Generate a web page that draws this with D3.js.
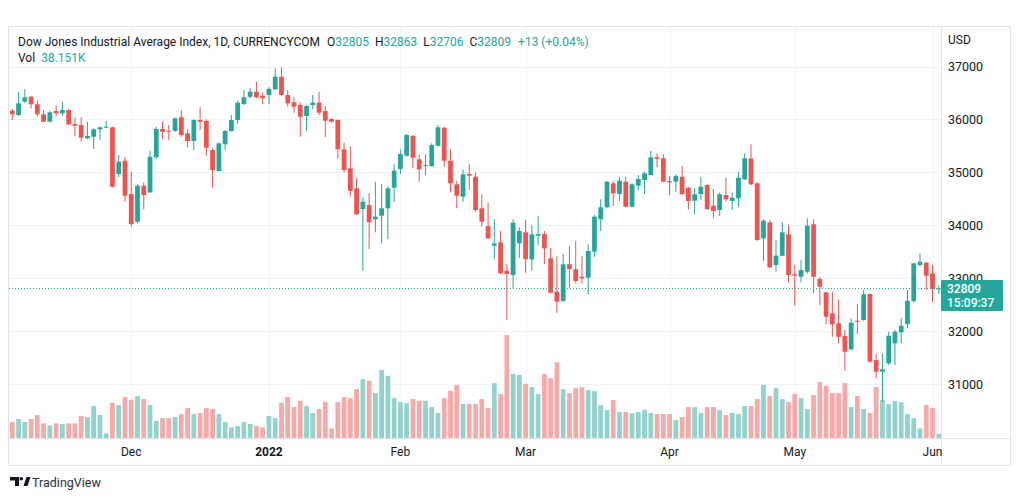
<!DOCTYPE html>
<html><head><meta charset="utf-8">
<script src="https://cdn.jsdelivr.net/npm/d3@7"></script>
<style>html,body{margin:0;padding:0;background:#fff}svg{display:block}</style>
</head><body><svg id="c" width="1020" height="501"></svg>
<script>
const opens=[36165,36083,36335,36429,36286,36097,35957,36159,36115,36178,35913,35894,35643,35673,35813,35843,35851,34968,35220,34590,34067,34747,34622,35284,35819,35787,35781,36040,35737,35592,35989,35970,35422,35025,35530,35781,35989,36291,36429,36524,36448,36461,36569,36807,36461,36323,36272,36064,36272,36316,36159,36008,35989,35435,35076,34698,34307,34382,34112,34180,34320,34709,35063,35314,35686,35246,35119,35119,35503,35843,35220,34774,34539,34968,34917,34320,33985,33613,33677,33141,33059,33658,33866,33356,33802,33834,33375,32744,32568,33262,33167,33027,33008,33500,34112,34339,34792,34590,34823,34350,34747,34855,34949,35284,35265,34836,34823,34917,34709,34464,34590,34760,34369,34288,34571,34458,34509,34868,35265,34792,33753,34055,33248,33424,33829,33073,33027,33122,34018,32984,32732,32335,32146,31906,31655,32196,32209,32700,31453,31232,31390,31768,31976,32133,32568,33248,33292,33091,32805];
const highs=[36197,36512,36575,36442,36354,36178,36165,36272,36335,36197,36040,36040,35957,35832,35862,35970,35862,35327,35295,35012,34774,34811,35403,35862,35957,35894,36040,36178,35813,36002,36229,36002,35465,35560,35800,36083,36354,36556,36588,36713,36512,36607,36966,36985,36556,36418,36323,36272,36461,36524,36253,36021,36002,35560,35484,34898,34528,34603,34823,34779,34741,35152,35435,35724,35705,35341,35341,35548,35894,35862,35435,34842,35057,35152,35000,34585,34426,34118,33891,33262,34112,33961,34099,34004,34174,33891,33575,33418,33456,33607,33708,33418,33640,34193,34490,34836,34836,34906,34917,34792,34949,35012,35409,35359,35341,34930,34968,35125,34728,34698,34917,34774,34685,34615,34898,34615,35012,35359,35530,34823,34112,34099,33721,34055,34004,33248,33343,34131,34112,33027,32744,32744,32600,32020,32241,32511,32776,32713,31566,31580,31988,32020,32252,32776,33293,33469,33311,33248,32863];
const lows=[35989,36070,36304,36210,36051,35945,35945,36064,36064,35894,35686,35579,35624,35441,35611,35840,34717,34906,34445,33972,34036,34301,34610,35252,35624,35611,35768,35673,35473,35422,35800,35314,34698,35012,35422,35768,35913,36272,36399,36399,36286,36286,36556,36442,36240,36127,35673,35787,36191,36083,35662,35938,35265,34993,34539,34193,33135,33551,33866,33658,33734,34445,34968,35295,35087,34823,34949,35106,35484,35106,34622,34320,34445,34666,34256,33972,33740,33362,33073,32209,32808,33386,33103,33154,33626,33262,32713,32347,32555,32808,32902,32902,32700,33405,33891,34320,34363,34458,34339,34339,34653,34590,34936,35095,34811,34571,34634,34571,34301,34212,34477,34288,34131,34174,34445,34288,34350,34855,34760,33708,33330,33197,33122,33418,32921,32479,32921,33091,32713,32492,32128,31893,31768,31251,31642,31944,32196,31409,31107,30665,31358,31358,31768,32052,32536,33216,32776,32555,32706];
const closes=[36097,36304,36418,36286,36097,35957,36134,36115,36178,35908,35881,35654,35686,35813,35851,35862,34728,35201,34558,34023,34747,34571,35295,35819,35768,35768,36021,35705,35592,35989,35957,35465,35044,35548,35781,35989,36316,36418,36524,36418,36399,36575,36807,36461,36304,36240,36051,36253,36316,36127,35976,35957,35435,35044,34647,34207,34445,34055,34161,34320,34698,35031,35346,35705,35276,35057,35138,35516,35851,35220,34792,34558,34963,34936,34288,34067,33753,33658,33091,33078,34048,33891,33356,33829,33834,33564,32725,32555,33262,33173,32946,32997,33513,34161,34339,34823,34603,34842,34350,34774,34874,34981,35284,35252,34823,34811,34930,34590,34458,34585,34728,34307,34269,34585,34490,34520,34898,35265,34774,33721,34086,33205,33424,33866,33059,33046,33154,33991,33027,32838,32271,32128,31893,31610,32158,32177,32695,31421,31232,31277,31912,31988,32101,32574,33280,33311,33046,32795,32809];
const volumes=[142,169,142,169,204,130,112,130,124,130,130,195,186,284,204,41,313,293,364,340,373,346,293,151,177,177,186,213,266,213,222,266,257,213,142,94,106,142,124,106,94,195,177,313,364,275,331,284,222,257,322,85,319,364,355,435,523,508,399,606,553,355,319,310,346,331,331,275,222,355,420,473,302,302,302,346,266,488,390,916,570,561,482,452,390,570,532,674,435,399,444,452,426,417,290,248,337,231,231,219,231,251,222,213,213,213,160,186,275,275,222,275,275,248,204,222,213,284,284,346,473,375,444,346,319,393,355,257,381,497,464,399,399,488,275,373,257,222,452,337,302,328,319,213,177,85,293,266,38.151];
const monthLabels=["Dec","2022","Feb","Mar","Apr","May","Jun"];
const monthIdx=[19,41,62,82,105,125,147];
const priceTicks=[31000,32000,33000,34000,35000,36000,37000];
const lastPrice=32809;
const countdown="15:09:37";
const changeText="+13 (+0.04%)";

const UP="#26a69a", DN="#ef5350", UPV="#92d2cc", DNV="#f7a9a7", GRID="#f0f3fa", TXT="#131722", BORDER="#e0e3eb";
const FONT="Roboto, 'Open Sans', sans-serif";
const n=closes.length;
const svg=d3.select("#c");
const paneL=9, paneR=941, paneT=27, paneB=438, axisB=465, outerR=1010;

const x=d3.scaleBand().domain(d3.range(n)).range([9.17,941.9]).paddingInner(0.24).paddingOuter(0.12);
const bw=x.bandwidth();
const cx=i=>x(i)+bw/2;
const y=d3.scaleLinear().domain([31000,37000]).range([384,66.5]);
const yv=d3.scaleLinear().domain([0,d3.max(volumes)]).range([paneB,335]);

svg.append("rect").attr("width",1020).attr("height",501).attr("fill","#fff");
svg.append("defs").append("clipPath").attr("id","pane").append("rect")
 .attr("x",paneL).attr("y",paneT).attr("width",paneR-paneL+1).attr("height",paneB-paneT);
const g=svg.append("g").attr("clip-path","url(#pane)");
// grid
g.selectAll(".hg").data(priceTicks).join("line").attr("x1",paneL).attr("x2",paneR)
 .attr("y1",d=>Math.round(y(d))+0.5).attr("y2",d=>Math.round(y(d))+0.5).attr("stroke",GRID);
g.selectAll(".vg").data(monthIdx).join("line").attr("y1",paneT).attr("y2",paneB)
 .attr("x1",d=>Math.round(cx(d))+0.5).attr("x2",d=>Math.round(cx(d))+0.5).attr("stroke",GRID);

const idx=d3.range(n);
// volume
g.selectAll(".vol").data(idx).join("rect").attr("x",i=>x(i)).attr("width",bw)
 .attr("y",i=>yv(volumes[i])).attr("height",i=>paneB-yv(volumes[i]))
 .attr("fill",i=>closes[i]>=opens[i]?UPV:DNV);
// wicks
g.selectAll(".wick").data(idx).join("line").attr("x1",cx).attr("x2",cx)
 .attr("y1",i=>y(highs[i])).attr("y2",i=>y(lows[i]))
 .attr("stroke",i=>closes[i]>=opens[i]?UP:DN).attr("stroke-width",1);
// bodies
g.selectAll(".body").data(idx).join("rect").attr("x",i=>x(i)).attr("width",bw)
 .attr("y",i=>y(Math.max(opens[i],closes[i])))
 .attr("height",i=>Math.max(1,Math.abs(y(opens[i])-y(closes[i]))))
 .attr("fill",i=>closes[i]>=opens[i]?UP:DN);

// last price dotted line
g.append("line").attr("x1",paneL).attr("x2",paneR).attr("y1",Math.round(y(lastPrice))+0.5).attr("y2",Math.round(y(lastPrice))+0.5)
 .attr("stroke",UP).attr("stroke-dasharray","1,2");

// borders
svg.append("rect").attr("x",paneL-0.5).attr("y",paneT-0.5).attr("width",outerR-paneL+1).attr("height",axisB-paneT+1)
 .attr("fill","none").attr("stroke",BORDER);
svg.append("line").attr("x1",paneR+0.5).attr("x2",paneR+0.5).attr("y1",paneT).attr("y2",axisB).attr("stroke",BORDER);
svg.append("line").attr("x1",paneL).attr("x2",outerR).attr("y1",paneB+0.5).attr("y2",paneB+0.5).attr("stroke",BORDER);

// y axis
const ya=svg.append("g").attr("transform",`translate(${paneR},0)`)
 .call(d3.axisRight(y).tickValues(priceTicks).tickSize(0).tickPadding(7).tickFormat(d3.format("d")));
ya.select(".domain").remove();
ya.selectAll("text").attr("font-family",FONT).attr("font-size",12.5).attr("fill",TXT);
svg.append("text").attr("x",paneR+7).attr("y",44).attr("font-family",FONT).attr("font-size",12).attr("fill",TXT).text("USD");

// x axis
const xa=svg.append("g").attr("transform",`translate(0,${paneB})`)
 .call(d3.axisBottom(x).tickValues(monthIdx).tickSize(0).tickPadding(9).tickFormat((d,i)=>monthLabels[i]));
xa.select(".domain").remove();
xa.selectAll(".tick").attr("transform",d=>`translate(${cx(d)},0)`);
xa.selectAll("text").attr("font-family",FONT).attr("font-size",12).attr("fill",TXT)
 .attr("font-weight",(d,i)=>monthLabels[i]==="2022"?"bold":"normal");

// price label
svg.append("rect").attr("x",paneR).attr("y",280).attr("width",62).attr("height",31).attr("rx",1).attr("fill",UP);
svg.append("text").attr("x",paneR+6).attr("y",292.5).attr("font-family",FONT).attr("font-size",12).attr("font-weight","500").attr("fill","#fff").text(d3.format("d")(lastPrice));
svg.append("text").attr("x",paneR+6).attr("y",307).attr("font-family",FONT).attr("font-size",12).attr("font-weight","500").attr("fill","#fff").text(countdown);

// header
const L=n-1;
const head=svg.append("text").attr("x",18).attr("y",46).attr("font-family",FONT).attr("font-size",12).attr("fill",TXT);
head.append("tspan").text("Dow Jones Industrial Average Index, 1D, CURRENCYCOM");
[["O",opens[L]],["H",highs[L]],["L",lows[L]],["C",closes[L]]].forEach(([k,v],j)=>{
  head.append("tspan").attr("dx",j===0?7:6).text(k);
  head.append("tspan").attr("fill",UP).text(v);
});
head.append("tspan").attr("dx",7).attr("fill",UP).text(changeText);
const vh=svg.append("text").attr("x",18).attr("y",62).attr("font-family",FONT).attr("font-size",12).attr("fill",TXT);
vh.append("tspan").text("Vol");
vh.append("tspan").attr("dx",6).attr("fill",UP).text(volumes[L].toFixed(3)+"K");

// logo
const lg=svg.append("g").attr("transform","translate(10,477)");
lg.append("path").attr("d","M0 0H9V9H5V3.5H0Z").attr("fill",TXT);
lg.append("circle").attr("cx",11.3).attr("cy",1.8).attr("r",1.8).attr("fill",TXT);
lg.append("path").attr("d","M13.5 9L16.5 0H20.5L17.5 9Z").attr("fill",TXT);
svg.append("text").attr("x",32).attr("y",487).attr("font-family",FONT).attr("font-size",12.5).attr("fill","#2a2e39").text("TradingView");
</script></body></html>
